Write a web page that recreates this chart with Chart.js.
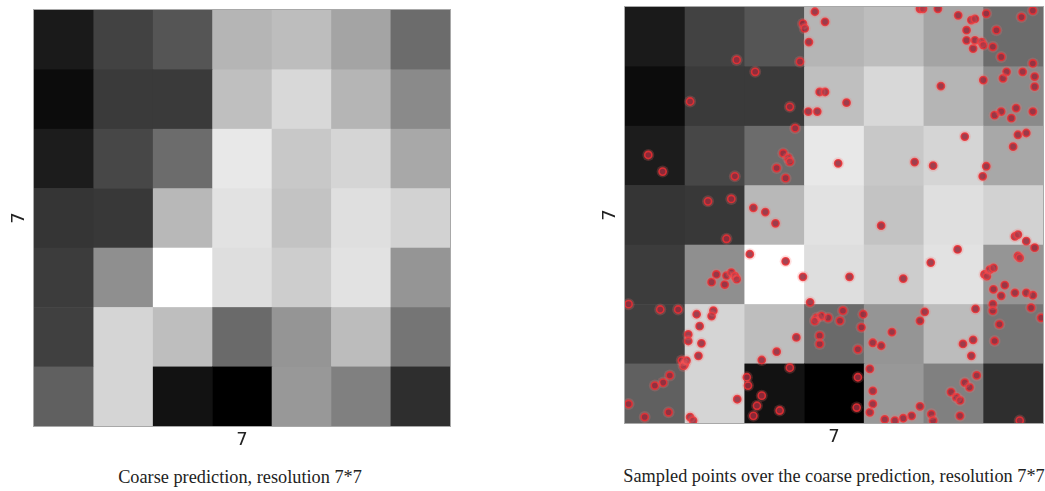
<!DOCTYPE html>
<html>
<head>
<meta charset="utf-8">
<script src="https://cdn.jsdelivr.net/npm/chart.js@4.4.0/dist/chart.umd.min.js"></script>
<style>
  html, body { margin: 0; padding: 0; background: #ffffff; }
  body { width: 1045px; height: 491px; position: relative; overflow: hidden; }
  .wrap { position: absolute; }
  .caption { position: absolute; font-family: "Liberation Serif", "Times New Roman", serif; font-size: 18.3px; color: #222; white-space: nowrap; transform: translateX(-50%); }
</style>
</head>
<body>
<div class="wrap" id="w1" style="left:0px;top:0px;width:460px;height:460px;"><canvas id="c1"></canvas></div>
<div class="wrap" id="w2" style="left:592px;top:0px;width:453px;height:460px;"><canvas id="c2"></canvas></div>
<div class="caption" style="left:240px;top:467px;">Coarse prediction, resolution 7*7</div>
<div class="caption" style="left:834px;top:466px;">Sampled points over the coarse prediction, resolution 7*7</div>
<script>
// ---- Data ----
const gridRows = 7;
const gridCols = 7;
const xAxisLabel = '7';
const yAxisLabel = '7';
// coarse prediction intensities (0 = black, 255 = white), rows from top to bottom
const coarseRow0 = [0x1a, 0x42, 0x55, 0xb5, 0xbd, 0xa4, 0x6c];
const coarseRow1 = [0x0c, 0x3a, 0x3a, 0xbf, 0xd8, 0xb5, 0x8a];
const coarseRow2 = [0x1c, 0x47, 0x6c, 0xe8, 0xc8, 0xd5, 0xa8];
const coarseRow3 = [0x35, 0x38, 0xb8, 0xe2, 0xc3, 0xdf, 0xd2];
const coarseRow4 = [0x3c, 0x8f, 0xff, 0xde, 0xcd, 0xe2, 0x95];
const coarseRow5 = [0x40, 0xd5, 0xbe, 0x6a, 0x95, 0xbc, 0x75];
const coarseRow6 = [0x60, 0xd5, 0x12, 0x00, 0x98, 0x80, 0x2e];
const coarseGrid = [coarseRow0, coarseRow1, coarseRow2, coarseRow3, coarseRow4, coarseRow5, coarseRow6];

// sampled points (x: column units from left, y: row units from top)
const sampleX = [
  3.18,3.35,2.98,3.01,3.08,2.93,1.87,4.94,4.99,5.24,5.58,5.80,5.86,5.72,5.72,5.86,5.97,5.83,6.00,6.05,6.22,6.16,6.30,6.64,6.83,6.83,
  2.18,1.09,2.76,2.85,3.26,3.35,3.07,3.22,3.71,5.29,6.00,6.33,6.39,6.66,6.86,6.86,6.19,6.30,6.47,6.55,6.83,
  0.39,0.63,1.84,2.65,2.73,2.76,2.54,2.69,3.57,4.85,5.16,5.69,6.05,5.99,6.58,6.72,6.50,
  1.39,1.78,1.70,2.15,2.35,2.52,4.29,6.53,6.58,6.72,6.86,
  2.09,2.69,2.98,3.76,4.66,5.12,5.57,6.58,6.61,6.02,6.06,6.11,6.17,6.17,6.36,6.30,6.53,6.72,6.83,1.53,1.70,1.78,1.84,1.87,1.67,1.45,
  0.59,0.89,0.06,1.20,1.48,1.45,1.25,1.06,1.06,1.28,1.23,0.95,1.00,0.98,1.03,3.10,3.21,3.29,3.40,3.18,3.65,3.60,3.99,3.26,3.26,3.90,2.87,2.54,3.96,4.15,4.29,4.47,4.94,5.02,5.87,5.66,5.83,5.80,6.16,6.16,6.27,6.19,6.80,6.97,
  0.75,0.64,0.50,0.06,0.33,0.73,1.09,1.14,1.88,2.29,2.04,2.06,2.29,2.21,2.15,2.59,2.76,3.90,3.88,4.10,4.15,4.15,4.10,4.35,4.52,4.66,4.80,4.94,5.13,5.16,5.46,5.55,5.61,5.69,5.77,5.89,5.61,6.61
];
const sampleY = [
  0.08,0.25,0.28,0.36,0.59,0.92,0.89,0.03,0.03,0.03,0.14,0.22,0.20,0.39,0.56,0.56,0.59,0.70,0.64,0.11,0.39,0.67,0.84,0.17,0.06,0.95,
  1.09,1.59,1.68,2.04,1.43,1.43,1.76,1.76,1.61,1.33,1.23,1.20,1.09,1.09,1.17,1.34,1.82,1.76,1.87,1.70,1.76,
  2.49,2.77,2.85,2.46,2.54,2.60,2.71,2.88,2.63,2.61,2.67,2.18,2.68,2.85,2.15,2.12,2.35,
  3.27,3.23,3.90,3.38,3.45,3.64,3.68,3.86,3.83,3.94,4.05,
  4.16,4.28,4.54,4.54,4.57,4.30,4.08,4.19,4.22,4.50,4.53,4.42,4.39,4.75,4.68,4.86,4.81,4.81,4.85,4.50,4.52,4.47,4.53,4.58,4.67,4.63,
  5.09,5.09,5.00,5.17,5.11,5.20,5.37,5.51,5.62,5.66,5.87,5.95,6.01,6.04,5.95,4.97,5.23,5.20,5.23,5.28,5.11,5.28,5.17,5.53,5.67,5.76,5.56,5.80,5.39,5.65,5.70,5.47,5.28,5.13,5.08,5.67,5.60,5.87,5.00,5.11,5.34,5.62,5.06,5.23,
  6.20,6.32,6.37,6.68,6.90,6.82,6.90,6.96,6.60,5.94,6.23,6.37,6.54,6.71,6.88,6.79,6.07,6.23,6.74,6.09,6.46,6.68,6.82,6.94,6.96,6.92,6.88,6.72,6.85,6.96,6.48,6.57,6.62,6.32,6.40,6.20,6.88,6.96
];

// ---- Heatmap plugin: draws cells through the chart's scales ----
const heatmapPlugin = {
  id: 'heatmap',
  beforeDatasetsDraw(chart) {
    const { ctx, scales: { x, y } } = chart;
    ctx.save();
    for (let r = 0; r < gridRows; r++) {
      for (let c = 0; c < gridCols; c++) {
        const v = coarseGrid[r][c];
        const x0 = x.getPixelForValue(c), x1 = x.getPixelForValue(c + 1);
        const y0 = y.getPixelForValue(r), y1 = y.getPixelForValue(r + 1);
        ctx.fillStyle = `rgb(${v},${v},${v})`;
        ctx.fillRect(Math.min(x0, x1), Math.min(y0, y1), Math.abs(x1 - x0) + 0.6, Math.abs(y1 - y0) + 0.6);
      }
    }
    const a = chart.chartArea;
    ctx.strokeStyle = '#a8a8a8';
    ctx.lineWidth = 1;
    ctx.strokeRect(a.left - 0.5, a.top - 0.5, a.right - a.left + 1, a.bottom - a.top + 1);
    ctx.restore();
  }
};

function makeOptions(pad) {
  const titleFont = { family: '"DejaVu Sans", sans-serif', size: 18 };
  return {
    responsive: true,
    maintainAspectRatio: false,
    animation: false,
    layout: { padding: pad, autoPadding: false },
    plugins: { legend: { display: false }, tooltip: { enabled: false } },
    scales: {
      x: {
        type: 'linear', min: 0, max: gridCols,
        ticks: { display: false }, grid: { display: false, drawTicks: false }, border: { display: false },
        title: { display: true, text: xAxisLabel, color: '#222', font: titleFont, padding: { top: 4, bottom: 4 } }
      },
      y: {
        type: 'linear', min: 0, max: gridRows, reverse: true,
        ticks: { display: false }, grid: { display: false, drawTicks: false }, border: { display: false },
        title: { display: true, text: yAxisLabel, color: '#222', font: titleFont, padding: { top: 4, bottom: 4 } }
      }
    }
  };
}

const points = sampleX.map((vx, i) => ({ x: vx, y: sampleY[i] }));

new Chart(document.getElementById('c1'), {
  type: 'scatter',
  data: { datasets: [{ data: [] }] },
  options: makeOptions({ left: 4.4, top: 10, right: 10, bottom: 4.4 }),
  plugins: [heatmapPlugin]
});

new Chart(document.getElementById('c2'), {
  type: 'scatter',
  data: {
    datasets: [
      { data: points, pointRadius: 6, pointBackgroundColor: 'rgba(255,110,110,0.22)', pointBorderWidth: 0, pointBorderColor: 'rgba(0,0,0,0)' },
      { data: points, pointRadius: 3.6, pointBackgroundColor: 'rgba(120,22,45,0.85)', pointBorderColor: 'rgba(232,30,35,0.85)', pointBorderWidth: 1.6 }
    ]
  },
  options: makeOptions({ left: 3.4, top: 7, right: 2, bottom: 7.4 }),
  plugins: [heatmapPlugin]
});
</script>
</body>
</html>
